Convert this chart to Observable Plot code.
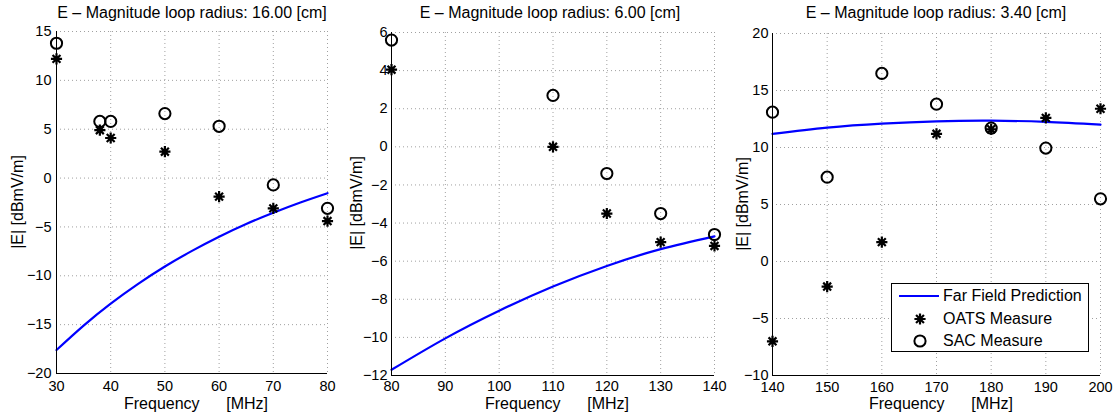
<!DOCTYPE html>
<html><head><meta charset="utf-8">
<script src="https://cdn.jsdelivr.net/npm/d3@7"></script>
<script src="https://cdn.jsdelivr.net/npm/@observablehq/plot@0.6"></script>
<style>
body{margin:0;background:#fff;}
#root{position:relative;width:1116px;height:418px;overflow:hidden;font-family:"Liberation Sans",Arial,Helvetica,sans-serif;background:#fff;}
.lbl{position:absolute;white-space:pre;font-size:16px;color:#000;transform:translate(-50%,-50%);line-height:1;}
.ylbl{transform:translate(-50%,-50%) rotate(-90deg);}
.panel{position:absolute;top:0;}
#legend{position:absolute;left:891px;top:283px;width:196px;height:67px;border:1px solid #000;background:#fff;}
.legtxt{position:absolute;left:51px;font-size:16px;line-height:1;white-space:pre;transform:translateY(-50%);}
</style></head><body><div id="root"></div>
<script>
// ---------- Panel 1: loop radius 16.00 cm ----------
const title1 = "E – Magnitude loop radius: 16.00 [cm]";
const freq1 = [30, 38, 40, 50, 60, 70, 80];
const oats1 = [12.2, 4.9, 4.1, 2.7, -1.9, -3.1, -4.4];
const sac1  = [13.8, 5.8, 5.8, 6.6, 5.3, -0.7, -3.1];
const farFreq1 = [30, 35, 40, 45, 50, 55, 60, 65, 70, 75, 80];
const farVal1  = [-17.6, -15.1, -12.85, -10.85, -9.05, -7.45, -6.0, -4.7, -3.55, -2.5, -1.55];
const xTicks1 = [30, 40, 50, 60, 70, 80];
const yTicks1 = [-20, -15, -10, -5, 0, 5, 10, 15];

// ---------- Panel 2: loop radius 6.00 cm ----------
const title2 = "E – Magnitude loop radius: 6.00 [cm]";
const freq2 = [80, 110, 120, 130, 140];
const oats2 = [4.05, 0.0, -3.5, -5.0, -5.2];
const sac2  = [5.6, 2.7, -1.4, -3.5, -4.6];
const farFreq2 = [80, 90, 100, 110, 120, 130, 140];
const farVal2  = [-11.7, -10.05, -8.6, -7.33, -6.25, -5.37, -4.7];
const xTicks2 = [80, 90, 100, 110, 120, 130, 140];
const yTicks2 = [-12, -10, -8, -6, -4, -2, 0, 2, 4, 6];

// ---------- Panel 3: loop radius 3.40 cm ----------
const title3 = "E – Magnitude loop radius: 3.40 [cm]";
const freq3 = [140, 150, 160, 170, 180, 190, 200];
const oats3 = [-7.0, -2.2, 1.7, 11.2, 11.6, 12.6, 13.4];
const sac3  = [13.1, 7.4, 16.5, 13.8, 11.7, 9.95, 5.5];
const farFreq3 = [140, 150, 160, 170, 180, 190, 200];
const farVal3  = [11.2, 11.75, 12.1, 12.3, 12.35, 12.25, 12.0];
const xTicks3 = [140, 150, 160, 170, 180, 190, 200];
const yTicks3 = [-10, -5, 0, 5, 10, 15, 20];

const xLabel = "Frequency      [MHz]";
const yLabel = "|E| [dBmV/m]";
const legendLabels = ["Far Field Prediction", "OATS Measure", "SAC Measure"];

const asterisk8 = {
  draw(ctx, size) {
    const r = Math.sqrt(size) * 0.5, d = r * Math.SQRT1_2;
    ctx.moveTo(-r, 0); ctx.lineTo(r, 0);
    ctx.moveTo(0, -r); ctx.lineTo(0, r);
    ctx.moveTo(-d, -d); ctx.lineTo(d, d);
    ctx.moveTo(-d, d); ctx.lineTo(d, -d);
  }
};

const root = document.getElementById("root");

function panel(cfg) {
  const pts = (xs, ys) => xs.map((f, i) => ({f, v: ys[i]}));
  const gridStyle = {stroke: "#a0a0a0", strokeOpacity: 1, strokeWidth: 1, strokeDasharray: "1,3"};
  const svg = Plot.plot({
    width: cfg.width, height: 418,
    marginLeft: cfg.ml, marginRight: cfg.mr, marginTop: cfg.mt, marginBottom: cfg.mb,
    style: {fontFamily: '"Liberation Sans", Arial, sans-serif', fontSize: "14.5px", color: "#000", background: "transparent", overflow: "visible"},
    x: {domain: [cfg.xTicks[0], cfg.xTicks[cfg.xTicks.length - 1]]},
    y: {domain: [cfg.yTicks[0], cfg.yTicks[cfg.yTicks.length - 1]]},
    marks: [
      Plot.gridX(cfg.xTicks, gridStyle),
      Plot.gridY(cfg.yTicks, gridStyle),
      Plot.line(pts(cfg.ff, cfg.fv), {x: "f", y: "v", stroke: "#0000ff", strokeWidth: 2.2, curve: "natural"}),
      Plot.ruleX([cfg.xTicks[0]], {stroke: "#000", strokeWidth: 1}),
      Plot.ruleY([cfg.yTicks[0]], {stroke: "#000", strokeWidth: 1}),
      Plot.axisX(cfg.xTicks, {tickSize: 0, tickPadding: cfg.padX, label: null, fontSize: 14.5}),
      Plot.axisY(cfg.yTicks, {tickSize: 0, tickPadding: cfg.padY, label: null, fontSize: 14.5}),
      Plot.dot(pts(cfg.freq, cfg.oats), {x: "f", y: "v", symbol: asterisk8, r: 6.3, stroke: "#000", fill: "none", strokeWidth: 2.2}),
      Plot.dot(pts(cfg.freq, cfg.sac), {x: "f", y: "v", r: 5.6, stroke: "#000", fill: "none", strokeWidth: 2})
    ]
  });
  svg.classList.add("panel");
  svg.style.left = cfg.left + "px";
  root.appendChild(svg);
  const add = (text, x, y, cls) => {
    const d = document.createElement("div");
    d.className = "lbl " + (cls || "");
    d.textContent = text;
    d.style.left = x + "px"; d.style.top = y + "px";
    root.appendChild(d);
  };
  add(cfg.title, cfg.titleX, 13);
  add(xLabel, cfg.xlX, 404);
  add(yLabel, cfg.ylX, cfg.ylY, "ylbl");
}

panel({left: 0, width: 340, ml: 56, mr: 13, mt: 31, mb: 45, padX: 7, padY: 5,
  xTicks: xTicks1, yTicks: yTicks1, freq: freq1, oats: oats1, sac: sac1, ff: farFreq1, fv: farVal1,
  title: title1, titleX: 192, xlX: 196, ylX: 18, ylY: 202});
panel({left: 340, width: 385, ml: 51, mr: 11, mt: 32, mb: 43, padX: 5, padY: 4,
  xTicks: xTicks2, yTicks: yTicks2, freq: freq2, oats: oats2, sac: sac2, ff: farFreq2, fv: farVal2,
  title: title2, titleX: 550, xlX: 557, ylX: 357, ylY: 203});
panel({left: 725, width: 391, ml: 47, mr: 16, mt: 33, mb: 43, padX: 6, padY: 4,
  xTicks: xTicks3, yTicks: yTicks3, freq: freq3, oats: oats3, sac: sac3, ff: farFreq3, fv: farVal3,
  title: title3, titleX: 936, xlX: 941, ylX: 743, ylY: 204});

// ---------- Legend ----------
const leg = document.createElement("div");
leg.id = "legend";
root.appendChild(leg);
const lsvg = d3.select(leg).append("svg").attr("width", 196).attr("height", 67)
  .style("position", "absolute").style("left", 0).style("top", 0);
const rowsY = [12, 35, 57];
lsvg.append("line").attr("x1", 7).attr("x2", 47).attr("y1", rowsY[0]).attr("y2", rowsY[0])
  .attr("stroke", "#0000ff").attr("stroke-width", 2.2);
lsvg.append("path").attr("d", d3.symbol(asterisk8, Math.PI * 6.3 * 6.3)())
  .attr("transform", `translate(28,${rowsY[1]})`).attr("stroke", "#000").attr("fill", "none").attr("stroke-width", 2.2);
lsvg.append("circle").attr("cx", 28).attr("cy", rowsY[2]).attr("r", 5.6)
  .attr("stroke", "#000").attr("fill", "none").attr("stroke-width", 2);
legendLabels.forEach((t, i) => {
  const d = document.createElement("div");
  d.className = "legtxt";
  d.textContent = t;
  d.style.top = rowsY[i] + "px";
  leg.appendChild(d);
});
</script></body></html>
